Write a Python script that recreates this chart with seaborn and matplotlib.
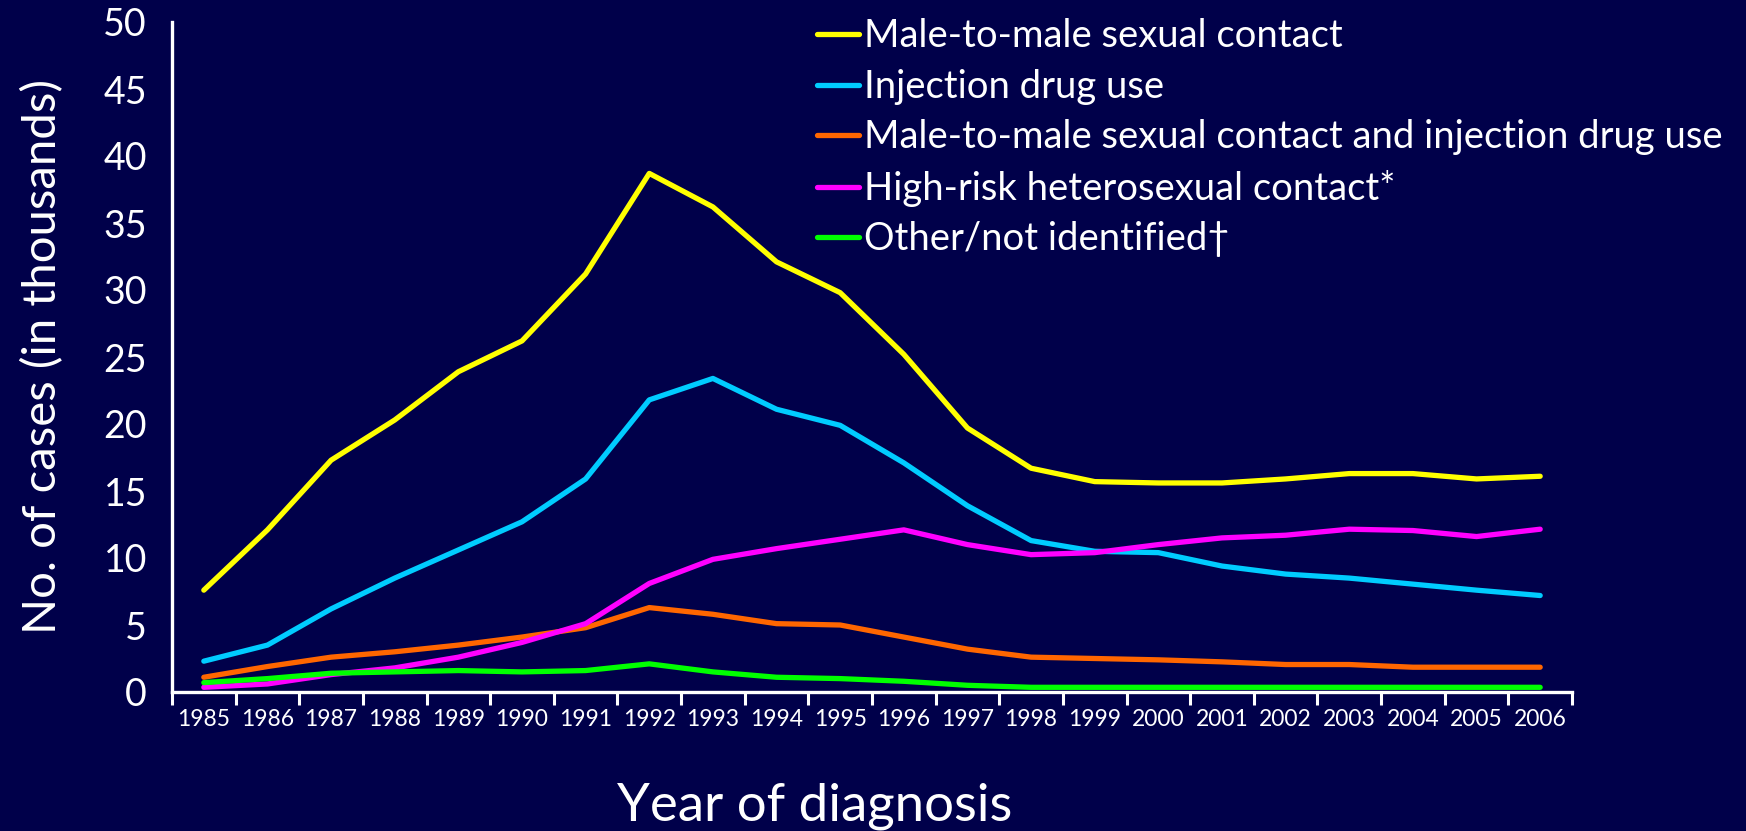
import pandas as pd
import seaborn as sns
import matplotlib.pyplot as plt

years = list(range(1985, 2007))
male_male = [7.6, 12.1, 17.3, 20.3, 23.9, 26.2, 31.2, 38.7, 36.2, 32.1, 29.8,
             25.2, 19.7, 16.7, 15.7, 15.6, 15.6, 15.9, 16.3, 16.3, 15.9, 16.1]
injection = [2.3, 3.5, 6.2, 8.5, 10.6, 12.7, 15.9, 21.8, 23.4, 21.1, 19.9,
             17.1, 13.9, 11.3, 10.5, 10.4, 9.4, 8.8, 8.5, 8.05, 7.6, 7.2]
male_inj = [1.1, 1.9, 2.6, 3.0, 3.5, 4.1, 4.8, 6.3, 5.8, 5.1, 5.0,
            4.1, 3.2, 2.6, 2.5, 2.4, 2.25, 2.05, 2.05, 1.85, 1.85, 1.85]
hetero = [0.35, 0.6, 1.3, 1.8, 2.6, 3.7, 5.1, 8.1, 9.9, 10.7, 11.4,
          12.1, 11.0, 10.25, 10.4, 11.0, 11.5, 11.7, 12.15, 12.05, 11.6, 12.15]
other = [0.7, 1.0, 1.4, 1.5, 1.6, 1.5, 1.6, 2.1, 1.5, 1.1, 1.0,
         0.8, 0.5, 0.35, 0.35, 0.35, 0.35, 0.35, 0.35, 0.35, 0.35, 0.35]

groups = ["Male-to-male sexual contact",
          "Injection drug use",
          "Male-to-male sexual contact and injection drug use",
          "High-risk heterosexual contact*",
          "Other/not identified\u2020"]
colors = ["#FFFF00", "#00CCFF", "#FF6600", "#FF00FF", "#00FF00"]
series = [male_male, injection, male_inj, hetero, other]

rows = []
for g, vals in zip(groups, series):
    for i, v in enumerate(vals):
        rows.append({"pos": i, "year": years[i], "cases": v, "group": g})
df = pd.DataFrame(rows)

bg = "#00004A"
sns.set_theme(style="white")
plt.rcParams["font.family"] = ["Lato", "DejaVu Sans"]

fig = plt.figure(figsize=(17.46, 8.31), dpi=100, facecolor=bg)
ax = fig.add_axes([172 / 1746, 1 - 692 / 831, 1400 / 1746, 670 / 831])
ax.set_facecolor(bg)

sns.lineplot(data=df, x="pos", y="cases", hue="group", hue_order=groups,
             palette=colors, linewidth=3.8, ax=ax)

ax.set_xlim(-0.5, len(years) - 0.5)
ax.set_ylim(0, 50)
ax.set_yticks(range(0, 51, 5))
ax.set_xticks(range(len(years)))
ax.set_xticklabels([str(y) for y in years])
ax.set_xticks([i - 0.5 for i in range(len(years) + 1)], minor=True)

for side in ["top", "right"]:
    ax.spines[side].set_visible(False)
for side in ["left", "bottom"]:
    ax.spines[side].set_color("white")
    ax.spines[side].set_linewidth(2.4)

ax.tick_params(axis="y", which="major", direction="out", length=12, width=2.2,
               colors="white", labelsize=27, pad=6)
ax.tick_params(axis="x", which="major", length=0, colors="white", pad=12)
ax.tick_params(axis="x", which="minor", direction="out", length=9.5, width=2.2,
               color="white", bottom=True)
for lab in ax.get_xticklabels():
    lab.set_family(["Liberation Sans Narrow", "DejaVu Sans Condensed", "Lato"])
    lab.set_fontsize(16.5)
    lab.set_color("white")

ax.set_xlabel("")
ax.set_ylabel("No. of cases (in thousands)", color="white", fontsize=34, labelpad=28)
fig.text(815 / 1746, 1 - 806 / 831, "Year of diagnosis", color="white",
         fontsize=38, ha="center", va="center")

handles, labels = ax.get_legend_handles_labels()
leg = ax.legend(handles, labels, loc="upper left", bbox_to_anchor=(790 / 1746, 1.01),
                bbox_transform=fig.transFigure, frameon=False, fontsize=27.5,
                handlelength=1.1, handletextpad=0.15, labelspacing=0.38,
                borderaxespad=0.3)
for t in leg.get_texts():
    t.set_color("white")
for l in leg.get_lines():
    l.set_linewidth(3.8)

fig.savefig("out.png", dpi=100, facecolor=bg)
